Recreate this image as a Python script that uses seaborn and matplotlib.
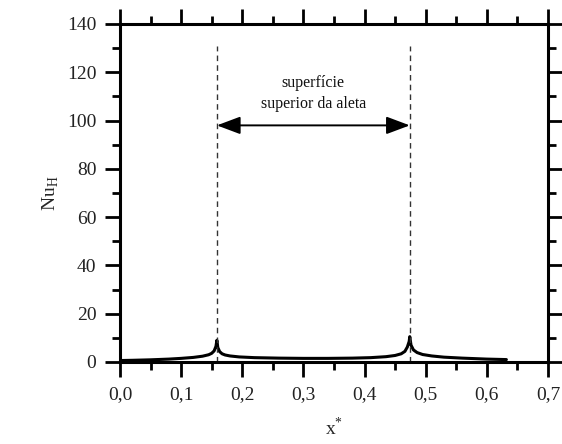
import matplotlib
matplotlib.use("Agg")
import matplotlib.pyplot as plt
from matplotlib.ticker import MultipleLocator, FuncFormatter
import seaborn as sns
import pandas as pd

# Local Nusselt number along the fin top surface
x_star = [0.000, 0.020, 0.050, 0.080, 0.100, 0.120, 0.135, 0.145, 0.150, 0.154,
          0.157, 0.1585, 0.160, 0.163, 0.167, 0.172, 0.180, 0.195, 0.220, 0.260,
          0.300, 0.340, 0.380, 0.410, 0.435, 0.450, 0.460, 0.466, 0.470, 0.473,
          0.474, 0.476, 0.480, 0.486, 0.495, 0.510, 0.530, 0.560, 0.600, 0.632]
nu_h = [0.6, 0.7, 0.9, 1.2, 1.5, 1.9, 2.4, 3.0, 3.6, 4.6,
        6.5, 9.0, 6.0, 4.3, 3.4, 2.9, 2.5, 2.1, 1.8, 1.6,
        1.5, 1.5, 1.6, 1.8, 2.2, 2.7, 3.4, 4.4, 6.2, 8.5,
        10.5, 7.0, 5.0, 3.9, 3.1, 2.5, 2.0, 1.6, 1.2, 1.0]

fin_edges = [0.1585, 0.474]
edge_top = 131
arrow_y = 98
label_lines = ["superfície", "superior da aleta"]
label_y = [115.5, 107]

x_ticks = [0.0, 0.1, 0.2, 0.3, 0.4, 0.5, 0.6, 0.7]
y_ticks = [0, 20, 40, 60, 80, 100, 120, 140]

sns.set_theme(style="ticks")
plt.rcParams["font.family"] = ["Liberation Serif", "DejaVu Serif"]
plt.rcParams["mathtext.fontset"] = "custom"
plt.rcParams["mathtext.rm"] = "Liberation Serif"

fig = plt.figure(figsize=(5.62, 4.44), dpi=100)
ax = fig.add_axes([0.2135, 0.1847, 0.7615, 0.7613])

df = pd.DataFrame({"x": x_star, "nu": nu_h})
sns.lineplot(data=df, x="x", y="nu", ax=ax, color="black", lw=2.2,
             estimator=None, sort=False)

for xe in fin_edges:
    ax.plot([xe, xe], [0, edge_top], color="#333333", lw=1.0,
            linestyle=(0, (4, 3)))

ax.annotate("", xy=(fin_edges[0], arrow_y), xytext=(fin_edges[1], arrow_y),
            arrowprops=dict(arrowstyle="<|-|>,head_length=1.2,head_width=0.45",
                            color="black", lw=1.4, shrinkA=0, shrinkB=0))
mid = (fin_edges[0] + fin_edges[1]) / 2
for txt, yy in zip(label_lines, label_y):
    ax.text(mid, yy, txt, ha="center", va="center", fontsize=11.5, color="#111111")

ax.set_xlim(0, 0.7)
ax.set_ylim(0, 140)
ax.set_xticks(x_ticks)
ax.set_yticks(y_ticks)
ax.xaxis.set_minor_locator(MultipleLocator(0.05))
ax.yaxis.set_minor_locator(MultipleLocator(10))
ax.xaxis.set_major_formatter(FuncFormatter(lambda v, p: f"{v:.1f}".replace(".", ",")))
ax.yaxis.set_major_formatter(FuncFormatter(lambda v, p: f"{v:.0f}"))

ax.tick_params(which="both", direction="out", top=True, right=True,
               labeltop=False, labelright=False, color="black", width=2.0)
ax.tick_params(which="major", length=11, labelsize=14, pad=6, labelcolor="#222222")
ax.tick_params(which="minor", length=6)
for s in ax.spines.values():
    s.set_visible(True)
    s.set_linewidth(2.2)
    s.set_color("black")

ax.set_xlabel(r"x$^{\mathregular{*}}$", fontsize=14, labelpad=10)
ax.set_ylabel(r"Nu$_{\mathregular{H}}$", fontsize=14, labelpad=4)

fig.savefig("out.png", dpi=100, facecolor="white")
